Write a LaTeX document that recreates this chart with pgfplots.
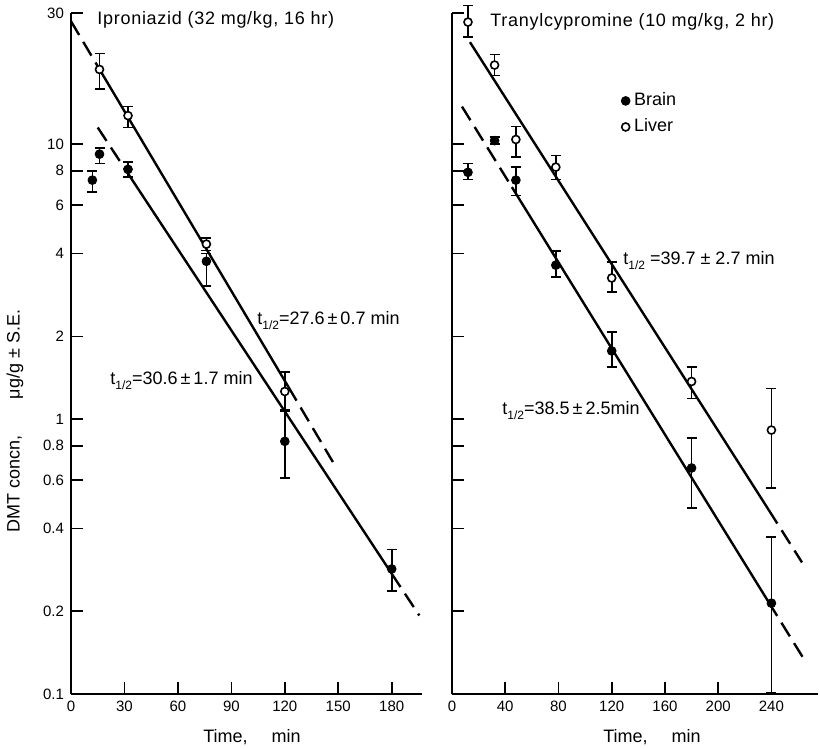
\documentclass[border=0pt]{standalone}
\usepackage{fontspec}
\setmainfont{Liberation Sans}
\newfontfamily\wide[LetterSpace=4]{Liberation Sans}
\usepackage{pgfplots}
\pgfplotsset{compat=1.18}

\begin{document}
\begin{tikzpicture}
\useasboundingbox (-35.5pt,-28pt) rectangle (374.5pt,347pt);

% left panel: iproniazid
\begin{axis}[at={(0,0)}, anchor=south west,
  scale only axis, width=175.5pt, height=340.5pt,
  ymode=log, ymin=0.1, ymax=30, xmin=0, xmax=197,
  axis lines=left, axis line style={-, line width=1pt},
  tick align=inside, major tick length=6pt,
  tick style={line width=0.8pt, black},
  ytick={0.1,0.2,0.4,0.6,0.8,1,2,4,6,8,10,30},
  yticklabels={0.1,0.2,0.4,0.6,0.8,1,2,4,6,8,10,30},
  yminorticks=false,
  xtick={0,30,60,90,120,150,180},
  xticklabels={0,30,60,90,120,150,180},
  tick label style={font=\fontsize{7.5}{9}\selectfont},
  clip=false]
\addplot[line width=1.2pt, dash pattern=on 8pt off 4pt] coordinates {(0,28) (15,19.2)};
\addplot[line width=1.2pt] coordinates {(15,19.2) (122,1.31)};
\addplot[line width=1.2pt, dash pattern=on 8pt off 4pt] coordinates {(122,1.31) (147,0.698)};
\addplot[line width=1.2pt, dash pattern=on 8pt off 4pt] coordinates {(15,11.5) (32,7.82)};
\addplot[line width=1.2pt] coordinates {(32,7.82) (180,0.274)};
\addplot[line width=1.2pt, dash pattern=on 8pt off 4pt] coordinates {(180,0.274) (195.5,0.193)};
% liver
\addplot[only marks, mark=*, mark size=2pt, mark options={fill=white, line width=0.8pt},
  error bars/.cd, y dir=both, y explicit,
  error bar style={line width=0.8pt},
  error mark options={rotate=90, line width=0.8pt, mark size=2.5pt}]
  table[y error plus=ep, y error minus=em] {
t y ep em
16 18.7 2.7 2.8
32 12.7 1.0 1.2
76 4.33 0.22 0.23
120 1.26 0.22 0.19
};
% brain
\addplot[only marks, mark=*, mark size=2.2pt,
  error bars/.cd, y dir=both, y explicit,
  error bar style={line width=0.8pt},
  error mark options={rotate=90, line width=0.8pt, mark size=2.5pt}]
  table[y error plus=ep, y error minus=em] {
t y ep em
12 7.4 0.6 0.7
16 9.2 0.5 0.7
32 8.1 0.5 0.5
76 3.75 0.25 0.7
120 0.83 0.25 0.22
180 0.285 0.05 0.048
};
\end{axis}

% right panel: tranylcypromine
\begin{axis}[at={(190.5pt,0)}, anchor=south west,
  scale only axis, width=183pt, height=340.5pt,
  ymode=log, ymin=0.1, ymax=30, xmin=0, xmax=275,
  axis lines=left, axis line style={-, line width=1pt},
  tick align=inside, major tick length=6pt,
  tick style={line width=0.8pt, black},
  ytick={0.1,0.2,0.4,0.6,0.8,1,2,4,6,8,10,30},
  yticklabels={},
  yminorticks=false,
  xtick={0,40,80,120,160,200,240},
  xticklabels={0,40,80,120,160,200,240},
  tick label style={font=\fontsize{7.5}{9}\selectfont},
  clip=false,
  legend style={draw=none, fill=none, at={(0.445,0.895)}, anchor=north west,
    font=\fontsize{9}{11}\selectfont, row sep=1pt},
  legend cell align=left,
  legend image code/.code={\draw[#1] plot coordinates {(0cm,0cm)};}]
\addlegendimage{only marks, mark=*, mark size=2.2pt}
\addlegendentry{Brain}
\addlegendimage{only marks, mark=*, mark size=2pt, mark options={fill=white, line width=0.8pt}}
\addlegendentry{Liver}
\addplot[line width=1.2pt] coordinates {(13.5,23.5) (238,0.467)};
\addplot[line width=1.2pt, dash pattern=on 8pt off 4pt] coordinates {(238,0.467) (263,0.301)};
\addplot[line width=1.2pt, dash pattern=on 8pt off 4pt] coordinates {(7.5,13.7) (45,6.98)};
\addplot[line width=1.2pt] coordinates {(45,6.98) (238,0.2155)};
\addplot[line width=1.2pt, dash pattern=on 8pt off 4pt] coordinates {(238,0.2155) (264,0.135)};
% brain
\addplot[only marks, mark=*, mark size=2.2pt,
  error bars/.cd, y dir=both, y explicit,
  error bar style={line width=0.8pt},
  error mark options={rotate=90, line width=0.8pt, mark size=2.5pt}]
  table[y error plus=ep, y error minus=em] {
t y ep em
12 7.9 0.6 0.45
32 10.3 0.3 0.3
48 7.4 0.85 0.9
78 3.63 0.45 0.35
120 1.77 0.30 0.22
180 0.664 0.19 0.19
240 0.214 0.158 0.113
};
% liver
\addplot[only marks, mark=*, mark size=2pt, mark options={fill=white, line width=0.8pt},
  error bars/.cd, y dir=both, y explicit,
  error bar style={line width=0.8pt},
  error mark options={rotate=90, line width=0.8pt, mark size=2.5pt}]
  table[y error plus=ep, y error minus=em] {
t y ep em
12 27.8 4.2 3.3
32 19.4 1.8 1.6
48 10.4 1.2 1.4
78 8.25 0.85 0.8
120 3.26 0.46 0.36
180 1.37 0.18 0.18
240 0.912 0.38 0.35
};
\end{axis}

\tikzset{lab/.style={font=\fontsize{9}{10}\selectfont, inner sep=0pt}}
\node[lab, anchor=base west] at (13pt,334.5pt) {\wide Iproniazid (32 mg/kg, 16 hr)};
\node[lab, anchor=base west] at (209.5pt,333.5pt) {\wide Tranylcypromine (10 mg/kg, 2 hr)};
\node[lab, anchor=base west] at (93pt,184.5pt) {t\raisebox{-0.5ex}{\fontsize{6}{6}\selectfont 1/2}=27.6\,±\,0.7 min};
\node[lab, anchor=base west] at (19.5pt,154.5pt) {t\raisebox{-0.5ex}{\fontsize{6}{6}\selectfont 1/2}=30.6\,±\,1.7 min};
\node[lab, anchor=base west] at (276pt,214.5pt) {t\raisebox{-0.5ex}{\fontsize{6}{6}\selectfont 1/2} =39.7 ± 2.7 min};
\node[lab, anchor=base west] at (215.5pt,139.5pt) {t\raisebox{-0.5ex}{\fontsize{6}{6}\selectfont 1/2}=38.5\,±\,2.5min};
\node[lab, rotate=90] at (-28pt,136.5pt) {DMT concn,\hspace{18pt}μg/g ± S.E.};
\node[lab] at (90.5pt,-21.5pt) {Time,\hspace{12pt}min};
\node[lab] at (290.5pt,-21.5pt) {Time,\hspace{12pt}min};
\end{tikzpicture}
\end{document}
